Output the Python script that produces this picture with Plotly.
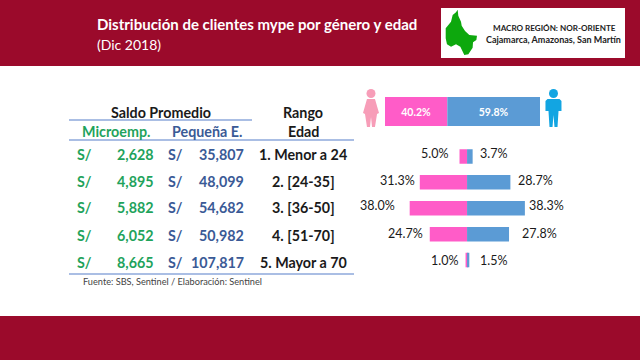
import plotly.graph_objects as go

W, H = 640, 360
FONT = "Lato"
CRIMSON = "#9B0A2B"
PINK = "#FF5CC8"
BLUE = "#5B9BD5"
GREEN = "#1FA35C"
NAVY = "#3A5A96"
RULE = "#8EA9DB"
INK = "#1A1A1A"

rangos = ["1. Menor a 24", "2. [24-35]", "3. [36-50]", "4. [51-70]", "5. Mayor a 70"]
micro = ["2,628", "4,895", "5,882", "6,052", "8,665"]
pequena = ["35,807", "48,099", "54,682", "50,982", "107,817"]
mujeres = [5.0, 31.3, 38.0, 24.7, 1.0]
hombres = [3.7, 28.7, 38.3, 27.8, 1.5]
total_mujeres = 40.2
total_hombres = 59.8
lab_f_x = [434, 397, 377, 405, 444]
lab_m_x = [493, 535, 546, 539, 493]
lab_y = [153, 180, 205, 233, 260]


def px(x):
    return x / W


def py(y):
    return 1 - y / H


def path(points):
    return "M " + " L ".join(f"{px(x):.4f},{py(y):.4f}" for x, y in points) + " Z"


shapes, ann = [], []


def rect(x0, y0, x1, y1, color):
    shapes.append(dict(type="rect", xref="paper", yref="paper", x0=px(x0), x1=px(x1),
                       y0=py(y0), y1=py(y1), fillcolor=color, line_width=0, layer="below"))


def rule(x0, x1, y, w=1.5):
    shapes.append(dict(type="line", xref="paper", yref="paper", x0=px(x0), x1=px(x1),
                       y0=py(y), y1=py(y), line=dict(color=RULE, width=w)))


def txt(x, y, s, size=14.3, color=INK, bold=False, anchor="center"):
    nudge = {"left": -2, "right": 2, "center": 0}[anchor]
    ann.append(dict(xref="paper", yref="paper", x=px(x + nudge), y=py(y), text=f"<b>{s}</b>" if bold else s,
                    showarrow=False, xanchor=anchor, yanchor="middle",
                    font=dict(family=FONT, size=size, color=color)))


def person(cx, top, color, female):
    sh = dict(type="path", xref="paper", yref="paper", fillcolor=color, line_width=0)
    h = 4.5
    shapes.append(dict(type="circle", xref="paper", yref="paper", x0=px(cx - h), x1=px(cx + h),
                       y0=py(top + 9), y1=py(top), fillcolor=color, line_width=0))
    if female:
        pts = [(cx - 4, top + 10), (cx + 4, top + 10), (cx + 8, top + 24), (cx + 6, top + 25), (cx + 4, top + 38),
               (cx + 1, top + 38), (cx, top + 28), (cx - 1, top + 38), (cx - 4, top + 38), (cx - 6, top + 25),
               (cx - 8, top + 24)]
    else:
        pts = [(cx - 6, top + 10), (cx + 6, top + 10), (cx + 8, top + 12), (cx + 8, top + 22), (cx + 5, top + 22),
               (cx + 4, top + 38), (cx + 1, top + 38), (cx, top + 26), (cx - 1, top + 38), (cx - 4, top + 38),
               (cx - 5, top + 22), (cx - 8, top + 22), (cx - 8, top + 12)]
    shapes.append({**sh, "path": path(pts)})


# Bands and the map box
rect(0, 0, 640, 66, CRIMSON)
rect(0, 316, 640, 360, CRIMSON)
rect(441, 8, 625, 58, "#FFFFFF")
map_zoom = [(50, 14), (52, 32), (60, 50), (62, 62), (72, 78), (85, 90), (108, 92), (106, 105), (96, 112),
            (95, 128), (82, 148), (70, 150), (58, 125), (45, 118), (30, 125), (18, 118), (14, 100), (14, 70),
            (30, 50), (35, 30), (45, 22)]
map_pts = [(441 + zx / 3, 5 + zy / 3) for zx, zy in map_zoom]
shapes.append(dict(type="path", xref="paper", yref="paper", path=path(map_pts), fillcolor="#0DA80D", line_width=0))

txt(97, 24, "Distribución de clientes mype por género y edad", 15, "#FFFFFF", True, "left")
txt(97, 44, "(Dic 2018)", 14, "#FFFFFF", False, "left")
txt(554, 28, "MACRO REGIÓN: NOR-ORIENTE", 8.1, "#222222", True)
txt(553, 39, "Cajamarca, Amazonas, San Martín", 9, "#222222", True)

# Table
txt(161, 112, "Saldo Promedio", bold=True)
txt(303, 112, "Rango", bold=True)
txt(116, 131, "Microemp.", color=GREEN, bold=True)
txt(207, 131, "Pequeña E.", color=NAVY, bold=True)
txt(303, 131, "Edad", bold=True)
rule(69, 252, 120)
rule(69, 354, 140)
rule(69, 354, 274)
for y, m, p, r in zip([154, 181, 208, 235, 262], micro, pequena, rangos):
    txt(77, y, "S/", color=GREEN, bold=True, anchor="left")
    txt(154, y, m, color=GREEN, bold=True, anchor="right")
    txt(168, y, "S/", color=NAVY, bold=True, anchor="left")
    txt(244, y, p, color=NAVY, bold=True, anchor="right")
    txt(303, y, r, bold=True)
txt(83, 281, "Fuente: SBS, Sentinel / Elaboración: Sentinel", 9.2, "#444444", False, "left")

# Icons
person(371, 89, "#F79DB8", True)
person(553.5, 89, "#12A5E2", False)

# Bar labels
for x, y, v in zip(lab_f_x, lab_y, mujeres):
    txt(x, y, f"{v:.1f}%", 12.5)
for x, y, v in zip(lab_m_x, lab_y, hombres):
    txt(x, y, f"{v:.1f}%", 12.5)

fig = go.Figure()
# Overall split
fig.add_bar(x=[total_mujeres], y=["t"], orientation="h", marker_color=PINK, marker_line_width=0, width=1,
            text=[f"<b>{total_mujeres}%</b>"], textposition="inside", insidetextanchor="middle",
            textfont=dict(family=FONT, size=10.5, color="#FFFFFF"), xaxis="x2", yaxis="y2", showlegend=False)
fig.add_bar(x=[total_hombres], y=["t"], orientation="h", marker_color=BLUE, marker_line_width=0, width=1,
            text=[f"<b>{total_hombres}%</b>"], textposition="inside", insidetextanchor="middle",
            textfont=dict(family=FONT, size=10.5, color="#FFFFFF"), xaxis="x2", yaxis="y2", showlegend=False)
# Age pyramid
fig.add_bar(x=[-v for v in mujeres], y=rangos, orientation="h", marker_color=PINK, marker_line_width=0,
            width=0.56, showlegend=False)
fig.add_bar(x=hombres, y=rangos, orientation="h", marker_color=BLUE, marker_line_width=0,
            width=0.56, showlegend=False)

fig.update_layout(
    width=W, height=H, margin=dict(l=0, r=0, t=0, b=0), paper_bgcolor="#FFFFFF", plot_bgcolor="rgba(0,0,0,0)",
    barmode="relative", shapes=shapes, annotations=ann, hovermode=False,
    xaxis=dict(domain=[px(360), px(580)], range=[-70.9, 74.8], visible=False),
    yaxis=dict(domain=[py(273), py(143.5)], autorange="reversed", visible=False, categoryorder="array",
               categoryarray=rangos),
    xaxis2=dict(domain=[px(385), px(540)], range=[0, 100], visible=False, anchor="y2"),
    yaxis2=dict(domain=[py(126), py(97)], visible=False, anchor="x2"),
)
fig.write_html("out.html", config=dict(displayModeBar=False), post_script="document.body.style.margin='0';")
